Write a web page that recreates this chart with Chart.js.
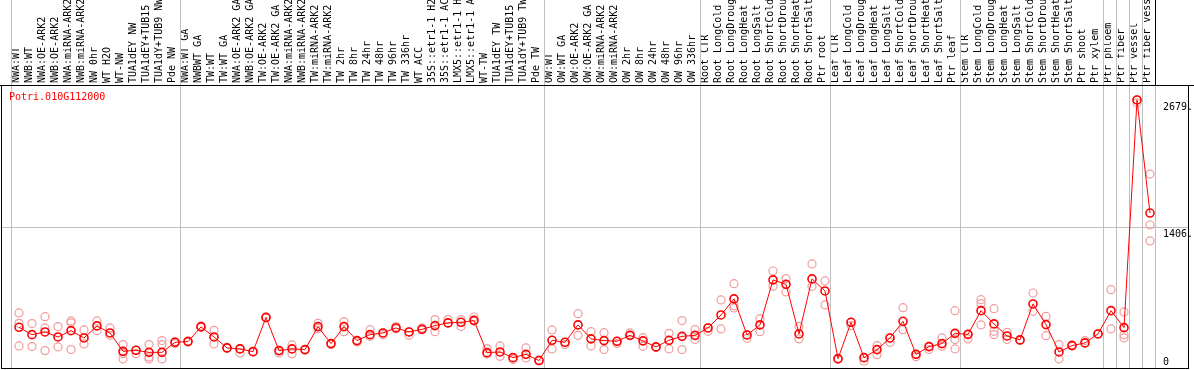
<!DOCTYPE html>
<html>
<head>
    <title>Potri.010G112000</title>
    <script src="https://cdn.jsdelivr.net/npm/chart.js@4.4.0/dist/chart.umd.min.js"></script>
    <style>
        html, body { margin: 0; padding: 0; background: #fff; }
        .chart-container { width: 1194px; height: 370px; position: relative; }
    </style>
</head>
<body>
    <div class="chart-container">
        <canvas id="myChart" width="1194" height="370"></canvas>
    </div>

    <script>
        const _ = null;

        const geneName = 'Potri.010G112000';

        const samples = [
            'NWA:WT', 'NWB:WT', 'NWA:OE-ARK2', 'NWB:OE-ARK2', 'NWA:miRNA-ARK2', 'NWB:miRNA-ARK2',
            'NW 0hr', 'WT H2O', 'WT-NW', 'TUA1dEY NW', 'TUA1dEY+TUB15', 'TUA1dY+TUB9 NW', 'Pde NW',
            'NWA:WT GA', 'NWBWT GA', 'TW:WT', 'TW:WT GA', 'NWA:OE-ARK2 GA', 'NWB:OE-ARK2 GA',
            'TW:OE-ARK2', 'TW:OE-ARK2 GA', 'NWA:miRNA-ARK2', 'NWB:miRNA-ARK2', 'TW:miRNA-ARK2',
            'TW:miRNA-ARK2', 'TW 2hr', 'TW 8hr', 'TW 24hr', 'TW 48hr', 'TW 96hr', 'TW 336hr', 'WT ACC',
            '35S::etr1-1 H2O', '35S::etr1-1 ACC', 'LMX5::etr1-1 H2O', 'LMX5::etr1-1 ACC', 'WT-TW',
            'TUA1dEY TW', 'TUA1dEY+TUB15', 'TUA1dY+TUB9 TW', 'Pde TW',
            'OW:WT', 'OW:WT GA', 'OW:OE-ARK2', 'OW:OE-ARK2 GA', 'OW:miRNA-ARK2', 'OW:miRNA-ARK2',
            'OW 2hr', 'OW 8hr', 'OW 24hr', 'OW 48hr', 'OW 96hr', 'OW 336hr',
            'Root CTR', 'Root LongCold', 'Root LongDrought', 'Root LongHeat', 'Root LongSalt',
            'Root ShortCold', 'Root ShortDrought', 'Root ShortHeat', 'Root ShortSalt', 'Ptr root',
            'Leaf CTR', 'Leaf LongCold', 'Leaf LongDrought', 'Leaf LongHeat', 'Leaf LongSalt',
            'Leaf ShortCold', 'Leaf ShortDrought', 'Leaf ShortHeat', 'Leaf ShortSalt', 'Ptr leaf',
            'Stem CTR', 'Stem LongCold', 'Stem LongDrought', 'Stem LongHeat', 'Stem LongSalt',
            'Stem ShortCold', 'Stem ShortDrought', 'Stem ShortHeat', 'Stem ShortSalt', 'Ptr shoot',
            'Ptr xylem', 'Ptr phloem', 'Ptr fiber', 'Ptr vessel', 'Ptr fiber vessel'
        ];

        // number of samples in each block between the grey separators
        const groupSizes = [13, 28, 12, 10, 10, 11, 1, 1, 1, 1];

        const meanValues = [
            415, 342, 369, 319, 382, 309, 429, 359, 176, 186, 166, 166, 266,
            273, 419, 319, 210, 200, 173, 514, 183, 200, 193, 422, 253, 422, 283, 342, 359, 409, 369, 395, 432, 459, 465, 482, 163, 170, 113, 146, 84,
            286, 266, 439, 300, 283, 276, 335, 280, 220, 286, 325, 335,
            409, 538, 698, 339, 439, 887, 843, 349, 897, 777,
            103, 465, 113, 193, 309, 475, 146, 223, 253, 355,
            345, 581, 449, 329, 290, 648, 442, 170, 233, 260, 349,
            581, 412, 2679, 1553
        ];

        const rep1 = [
            558, 452, 521, 422, 479, 389, 479, 409, 243, 153, 243, 283, 273,
            280, 419, 385, 215, 205, 173, 514, 160, 240, 193, 455, 253, 472, 283, 392, 342, 422, 335, 409, 492, 492, 492, 518, 203, 230, 94, 210, 84,
            389, 243, 551, 372, 362, 253, 359, 312, 220, 355, 482, 392,
            375, 688, 850, 305, 501, 976, 900, 425, 1046, 877,
            103, 432, 77, 233, 266, 611, 123, 193, 309, 581,
            300, 690, 601, 365, 283, 757, 524, 243, 240, 283, 352,
            790, 568, 2679, 1941
        ];

        const rep2 = [
            455, 223, 409, 220, 460, 250, 382, 335, 100, 186, 100, 243, 253,
            273, 430, 250, 205, 160, 170, 510, 183, 153, 190, 402, 245, 372, 270, 325, 359, 400, 369, 395, 372, 459, 422, 492, 150, 126, 113, 110, 90,
            200, 266, 335, 230, 193, 276, 335, 226, 215, 200, 193, 293,
            409, 399, 631, 339, 372, 823, 767, 300, 823, 638,
            95, 465, 113, 143, 309, 392, 146, 223, 226, 293,
            345, 651, 375, 293, 290, 574, 332, 100, 233, 260, 349,
            399, 342, 2650, 1434
        ];

        const rep3 = [
            230, _, 183, _, 193, _, _, _, 153, _, 120, 100, _,
            _, _, _, _, _, _, _, _, _, _, _, _, _, _, _, _, _, _, _, _, _, _, _, _, _, _, _, _,
            _, _, _, _, _, _, _, _, _, _, _, _,
            _, _, 608, _, _, _, _, _, _, _,
            _, _, _, _, _, _, _, _, _, 200,
            _, 439, 342, _, _, _, _, _, _, _, _,
            _, 309, _, 1275
        ];

        const yTicks = [0, 1406, 2679];
        const yTickLabels = ['0', '1406.', '2679.'];

        const monoFont = "'DejaVu Sans Mono', monospace";
        const sepOffset = 8 / 13;

        const separators = [-sepOffset];
        let acc = 0;
        groupSizes.forEach(n => { acc += n; separators.push(acc - sepOffset); });

        const toPoints = arr => arr.map((v, i) => ({ x: i, y: v }));

        const framePlugin = {
            id: 'frame',
            beforeDatasetsDraw(chart) {
                const { ctx, chartArea: a, scales: { x } } = chart;
                ctx.save();
                ctx.lineWidth = 1;
                ctx.strokeStyle = '#c0c0c0';
                separators.forEach(s => {
                    const px = Math.round(x.getPixelForValue(s)) + 0.5;
                    ctx.beginPath();
                    ctx.moveTo(px, 0);
                    ctx.lineTo(px, a.bottom);
                    ctx.stroke();
                });
                ctx.strokeStyle = '#000';
                const last = Math.round(x.getPixelForValue(separators[separators.length - 1])) + 0.5;
                ctx.beginPath();
                ctx.moveTo(last, 0);
                ctx.lineTo(last, a.top);
                ctx.moveTo(0, a.top + 0.5);
                ctx.lineTo(chart.width, a.top + 0.5);
                ctx.stroke();
                ctx.strokeRect(a.left + 0.5, a.top + 0.5, a.right - a.left - 1, a.bottom - a.top - 1);
                ctx.restore();
            },
            afterDraw(chart) {
                const { ctx, chartArea: a, scales: { y } } = chart;
                ctx.save();
                ctx.font = '10px ' + monoFont;
                ctx.fillStyle = '#ff0000';
                ctx.textBaseline = 'alphabetic';
                ctx.fillText(geneName, a.left + 8, a.top + 15);
                ctx.fillStyle = '#000';
                ctx.textBaseline = 'top';
                yTicks.forEach((v, i) => {
                    const py = Math.min(y.getPixelForValue(v) + 2, a.bottom - 12);
                    ctx.fillText(yTickLabels[i], a.right - 26, py);
                });
                ctx.restore();
            }
        };

        const repStyle = {
            showLine: false,
            pointRadius: 4,
            pointBorderWidth: 1.2,
            pointBorderColor: '#f09c9c',
            pointBackgroundColor: 'rgba(0,0,0,0)'
        };

        new Chart(document.getElementById('myChart'), {
            type: 'line',
            data: {
                datasets: [
                    {
                        label: 'mean',
                        data: toPoints(meanValues),
                        borderColor: '#ff0000',
                        borderWidth: 1,
                        pointRadius: 4,
                        pointBorderWidth: 1.6,
                        pointBorderColor: '#ff0000',
                        pointBackgroundColor: 'rgba(0,0,0,0)',
                        tension: 0
                    },
                    Object.assign({ label: 'rep1', data: toPoints(rep1) }, repStyle),
                    Object.assign({ label: 'rep2', data: toPoints(rep2) }, repStyle),
                    Object.assign({ label: 'rep3', data: toPoints(rep3) }, repStyle)
                ]
            },
            options: {
                responsive: false,
                animation: false,
                devicePixelRatio: 1,
                layout: { autoPadding: false, padding: { left: 1, right: 5, top: 0, bottom: 1 } },
                plugins: {
                    legend: { display: false },
                    tooltip: { enabled: false }
                },
                scales: {
                    x: {
                        type: 'linear',
                        position: 'top',
                        min: -18 / 13,
                        max: 90,
                        afterBuildTicks: s => { s.ticks = samples.map((_, i) => ({ value: i })); },
                        afterFit: s => { s.height = 85; s.paddingLeft = 0; s.paddingRight = 0; },
                        ticks: {
                            autoSkip: false,
                            minRotation: 90,
                            maxRotation: 90,
                            padding: 2,
                            labelOffset: 9,
                            color: '#000',
                            font: { family: monoFont, size: 10 },
                            callback: v => samples[v]
                        },
                        grid: { display: false, drawTicks: false },
                        border: { display: false }
                    },
                    y: {
                        min: 0,
                        max: 2828,
                        afterBuildTicks: s => { s.ticks = yTicks.map(v => ({ value: v })); },
                        afterFit: s => { s.width = 0; },
                        ticks: { display: false },
                        grid: {
                            drawTicks: false,
                            color: c => (c.tick && c.tick.value === 1406) ? '#c0c0c0' : 'rgba(0,0,0,0)'
                        },
                        border: { display: false }
                    }
                }
            },
            plugins: [framePlugin]
        });
    </script>
</body>
</html>
